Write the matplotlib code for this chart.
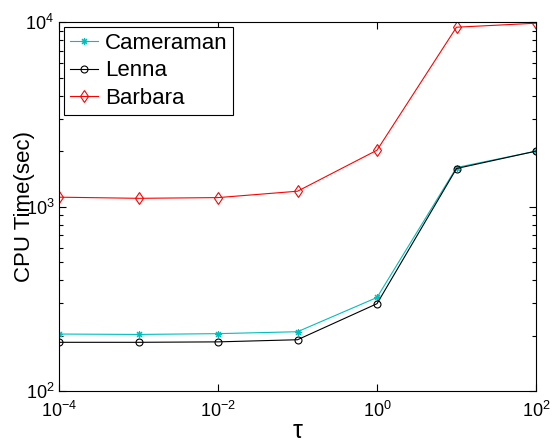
import numpy as np
import matplotlib
matplotlib.use("Agg")
import matplotlib.pyplot as plt
from matplotlib.ticker import LogLocator, NullLocator, NullFormatter

plt.rcParams['font.family'] = ['Liberation Sans', 'DejaVu Sans']
plt.rcParams['mathtext.fontset'] = 'custom'
plt.rcParams['mathtext.rm'] = 'Liberation Sans'
plt.rcParams['axes.linewidth'] = 0.8

tau = [1e-4, 1e-3, 1e-2, 1e-1, 1e0, 1e1, 1e2]
cameraman = [204, 203, 205, 210, 322, 1630, 2000]
lenna = [184, 184, 185, 190, 298, 1610, 2000]
barbara = [1126, 1110, 1120, 1213, 2024, 9394, 9875]

fig = plt.figure(figsize=(5.52, 4.44), dpi=100)
ax = fig.add_axes([0.107, 0.119, 0.864, 0.831])

ax.loglog(tau, cameraman, color='#00bfbf', marker=(8, 2, 0), ms=5, mew=0.8, lw=0.8, label='Cameraman')
ax.loglog(tau, lenna, color='black', marker='o', ms=5, mfc='none', mew=0.8, lw=0.8, label='Lenna')
ax.loglog(tau, barbara, color='red', marker='d', ms=6, mfc='none', mew=0.8, lw=0.8, label='Barbara')

ax.set_xlim(1e-4, 1e2)
ax.set_ylim(1e2, 1e4)
ax.xaxis.set_major_locator(LogLocator(base=100))
ax.xaxis.set_minor_locator(NullLocator())
ax.yaxis.set_minor_formatter(NullFormatter())
ax.tick_params(which='both', direction='in', top=True, right=True, labelsize=13, width=0.8)
ax.tick_params(which='major', length=5)
ax.tick_params(which='minor', length=3)
ax.tick_params(axis='x', pad=7)

ax.set_xlabel('τ', fontsize=18)
ax.xaxis.set_label_coords(0.5, -0.075)
ax.set_ylabel('CPU Time(sec)', fontsize=16)
ax.yaxis.set_label_coords(-0.05, 0.5)

leg = ax.legend(loc='upper left', fontsize=16, fancybox=False, edgecolor='black',
                borderaxespad=0.22, handlelength=1.3, handletextpad=0.3,
                labelspacing=0.3, borderpad=0.25, framealpha=1)
leg.get_frame().set_linewidth(0.8)

fig.savefig('out.png', dpi=100)
